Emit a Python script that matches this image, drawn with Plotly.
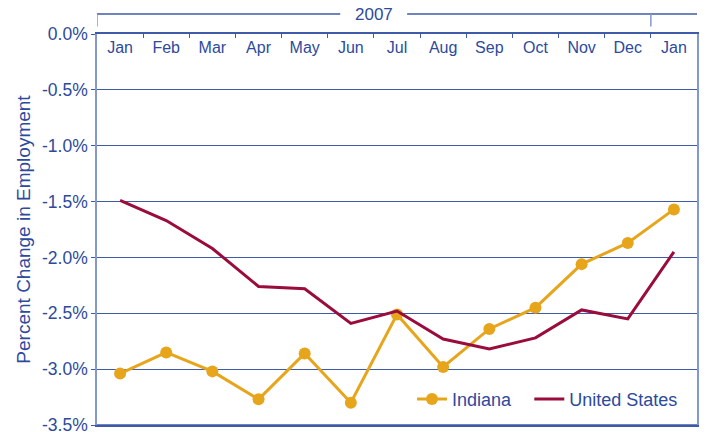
import plotly.graph_objects as go

months = ["Jan", "Feb", "Mar", "Apr", "May", "Jun", "Jul", "Aug", "Sep", "Oct", "Nov", "Dec", "Jan"]
indiana = [-3.04, -2.85, -3.02, -3.27, -2.86, -3.30, -2.51, -2.98, -2.64, -2.45, -2.06, -1.87, -1.57]
united_states = [-1.49, -1.67, -1.92, -2.26, -2.28, -2.59, -2.48, -2.73, -2.82, -2.72, -2.47, -2.55, -1.95]
y_ticks = [0.0, -0.5, -1.0, -1.5, -2.0, -2.5, -3.0, -3.5]
y_tick_labels = ["0.0%", "-0.5%", "-1.0%", "-1.5%", "-2.0%", "-2.5%", "-3.0%", "-3.5%"]
year_label = "2007"

x = list(range(len(months)))

BLUE_TEXT = "#2d4a9c"
GRID = "#3f5aa8"
LIGHT = "#8497cf"
ORANGE = "#e7a51b"
MAROON = "#9a0c3c"
FONT = "Liberation Sans, Arial, sans-serif"

fig = go.Figure()
fig.add_trace(go.Scatter(
    x=x, y=indiana, name="Indiana", mode="lines+markers", legend="legend",
    line=dict(color=ORANGE, width=3), marker=dict(color=ORANGE, size=12),
))
fig.add_trace(go.Scatter(
    x=x, y=united_states, name="United States", mode="lines", legend="legend2",
    line=dict(color=MAROON, width=3),
))
# invisible trace to drive the month-label axis
fig.add_trace(go.Scatter(x=[-0.5, 12.5], y=[0, 0], xaxis="x2", mode="lines",
                         line=dict(width=0), showlegend=False, hoverinfo="skip"))

legend_style = dict(orientation="h", y=0.066, xanchor="left", yanchor="middle",
                    font=dict(size=18, color=BLUE_TEXT), bgcolor="rgba(0,0,0,0)",
                    itemwidth=30)

fig.update_layout(
    width=707, height=432,
    margin=dict(l=97, r=10, t=34, b=7),
    paper_bgcolor="white", plot_bgcolor="white",
    font=dict(family=FONT, color=BLUE_TEXT),
    showlegend=True,
    legend=dict(x=0.525, **legend_style),
    legend2=dict(x=0.7205, **legend_style),
    xaxis=dict(
        range=[-0.5, 12.5], side="top",
        tickvals=[i - 0.5 for i in range(len(months) + 1)], ticks="inside",
        ticklen=4, tickcolor=GRID, showticklabels=False,
        showgrid=False, zeroline=False, automargin=False,
        showline=True, linecolor=GRID, linewidth=1.5, mirror=True,
    ),
    xaxis2=dict(
        range=[-0.5, 12.5], overlaying="x", anchor="free", position=0.995,
        side="bottom", tickvals=x, ticktext=months, ticks="",
        tickfont=dict(size=16, color=BLUE_TEXT),
        showgrid=False, zeroline=False, showline=False, automargin=False,
    ),
    yaxis=dict(
        range=[-3.5, 0], tickvals=y_ticks, ticktext=y_tick_labels,
        ticks="outside", ticklen=4, tickcolor=GRID, automargin=False,
        ticklabeloverflow="allow",
        showgrid=True, gridcolor=GRID, gridwidth=1, zeroline=False,
        showline=True, linecolor=LIGHT, linewidth=1.5, mirror=True,
        tickfont=dict(size=17.5, color=BLUE_TEXT),
        title=dict(text="Percent Change in Employment", font=dict(size=19, color=BLUE_TEXT), standoff=6),
    ),
)

# bottom frame line
fig.add_shape(type="line", xref="paper", yref="paper", x0=0, x1=1, y0=0, y1=0,
              line=dict(color=GRID, width=1.5))

# top "2007" bracket
ph = 391.0
def py(px_from_top):
    return 1 + (34 - px_from_top) / ph

ybar = py(14)
ytick_end = py(26.5)
fig.add_shape(type="line", xref="x", yref="paper", x0=-0.5, x1=4.77, y0=ybar, y1=ybar,
              line=dict(color=GRID, width=1.5))
fig.add_shape(type="line", xref="x", yref="paper", x0=6.22, x1=12.5, y0=ybar, y1=ybar,
              line=dict(color=GRID, width=1.5))
fig.add_shape(type="line", xref="x", yref="paper", x0=-0.5, x1=-0.5, y0=ybar, y1=ytick_end,
              line=dict(color=LIGHT, width=1.5))
fig.add_shape(type="line", xref="x", yref="paper", x0=11.5, x1=11.5, y0=ybar, y1=ytick_end,
              line=dict(color=LIGHT, width=1.5))
fig.add_annotation(x=5.5, xref="x", y=ybar, yref="paper", text=year_label, showarrow=False,
                   font=dict(size=17, color=BLUE_TEXT), xanchor="center", yanchor="middle")

fig.write_html("out.html", config={"displayModeBar": False},
               post_script="document.body.style.margin='0px';")
